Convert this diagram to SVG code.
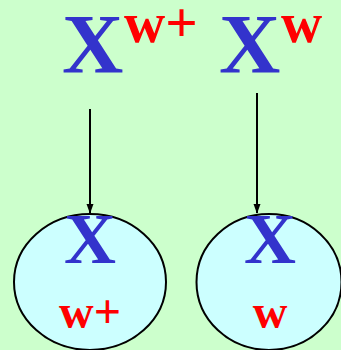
<svg xmlns="http://www.w3.org/2000/svg" width="341" height="350" viewBox="0 0 341 350">
<style>
text{font-family:"Liberation Serif","Times New Roman",serif;font-weight:bold}
.X{fill:#3333CC}
.r{fill:#FF0000}
.cell{fill:#CCFFFF;stroke:#000;stroke-width:2}
.arr{stroke:#000;stroke-width:2;fill:none;marker-end:url(#ah)}
</style>
<defs>
<marker id="ah" markerWidth="10" markerHeight="14" refX="13" refY="5" orient="auto" markerUnits="userSpaceOnUse" viewBox="0 0 14 10">
<path d="M0,0 L14,5 L0,10 Z" fill="#000"/>
</marker>
</defs>
<rect width="341" height="350" fill="#CCFFCC"/>
<g id="top-left">
<text class="X" x="62" y="73" font-size="85">X</text>
<text class="r" x="124" y="42" font-size="57">w+</text>
</g>
<g id="top-right">
<text class="X" x="219" y="73" font-size="85">X</text>
<text class="r" x="281" y="42" font-size="57">w</text>
</g>
<g id="cell-left">
<ellipse class="cell" cx="90" cy="282" rx="76" ry="68"/>
<text class="X" x="90" y="263" font-size="72" text-anchor="middle">X</text>
<text class="r" x="90" y="328" font-size="48" text-anchor="middle">w+</text>
</g>
<g id="cell-right">
<ellipse class="cell" cx="269" cy="282" rx="72.5" ry="68"/>
<text class="X" x="270" y="263" font-size="72" text-anchor="middle">X</text>
<text class="r" x="270" y="328" font-size="48" text-anchor="middle">w</text>
</g>
<g id="connectors">
<line class="arr" x1="90" y1="109" x2="90" y2="213"/>
<line class="arr" x1="257" y1="93" x2="257" y2="213"/>
</g>
</svg>
